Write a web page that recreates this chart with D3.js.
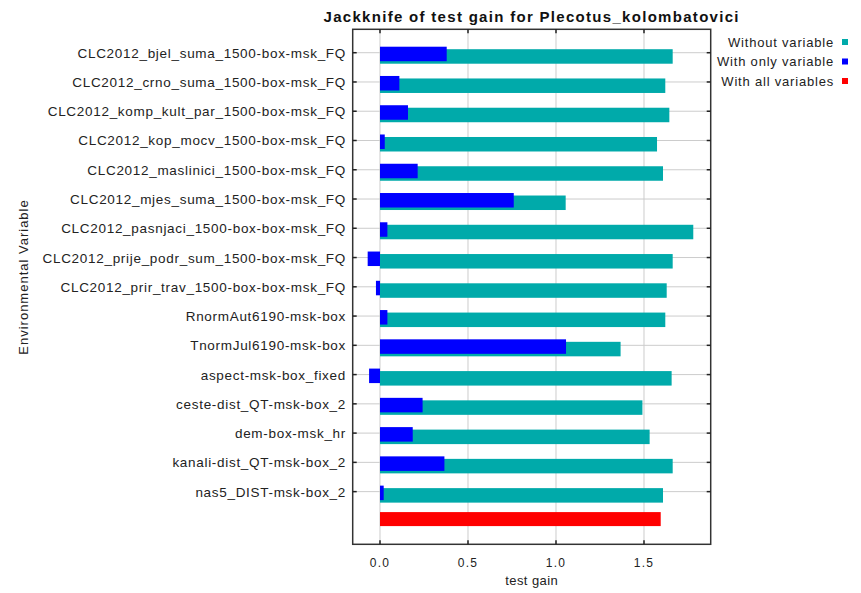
<!DOCTYPE html>
<html><head><meta charset="utf-8">
<script src="https://cdn.jsdelivr.net/npm/d3@7"></script>
<style>body{margin:0;background:#fff;} text{font-family:"Liberation Sans",Arial,sans-serif;}</style>
</head><body>
<svg id="chart" width="861" height="593"></svg>
<script>
const categories = [
  "CLC2012_bjel_suma_1500-box-msk_FQ",
  "CLC2012_crno_suma_1500-box-msk_FQ",
  "CLC2012_komp_kult_par_1500-box-msk_FQ",
  "CLC2012_kop_mocv_1500-box-msk_FQ",
  "CLC2012_maslinici_1500-box-msk_FQ",
  "CLC2012_mjes_suma_1500-box-msk_FQ",
  "CLC2012_pasnjaci_1500-box-box-msk_FQ",
  "CLC2012_prije_podr_sum_1500-box-msk_FQ",
  "CLC2012_prir_trav_1500-box-box-msk_FQ",
  "RnormAut6190-msk-box",
  "TnormJul6190-msk-box",
  "aspect-msk-box_fixed",
  "ceste-dist_QT-msk-box_2",
  "dem-box-msk_hr",
  "kanali-dist_QT-msk-box_2",
  "nas5_DIST-msk-box_2"
];
const withoutVariable = [1.663, 1.621, 1.644, 1.574, 1.608, 1.055, 1.780, 1.663, 1.629, 1.621, 1.367, 1.657, 1.491, 1.532, 1.663, 1.608];
const withOnlyVariable = [0.379, 0.110, 0.159, 0.027, 0.214, 0.760, 0.042, -0.070, -0.023, 0.042, 1.057, -0.062, 0.242, 0.186, 0.366, 0.021];
const withAllVariables = 1.595;
const xTicks = [0, 0.5, 1.0, 1.5];
const legendLabels = ["Without variable", "With only variable", "With all variables"];
const title = "Jackknife of test gain for Plecotus_kolombatovici";
const xTitle = "test gain";
const yTitle = "Environmental Variable";

const colors = {without: "#00aaaa", only: "#0000ff", all: "#ff0000"};
const svg = d3.select("#chart");
const L = 352.7, R = 710.7, T = 29.3, B = 544.3;
const x = d3.scaleLinear().domain([-0.1551, 1.8790]).range([L, R]);
const rows = categories.concat(["__all__"]);
const y = d3.scalePoint().domain(rows).range([T, B]).padding(0.8);

// grid
const g = svg.append("g");
g.selectAll(".vg").data(xTicks).join("line")
  .attr("x1", d => x(d)).attr("x2", d => x(d)).attr("y1", T).attr("y2", B)
  .attr("stroke", "#cccccc").attr("stroke-width", 1);
g.selectAll(".hg").data(categories).join("line")
  .attr("x1", L).attr("x2", R).attr("y1", d => y(d)).attr("y2", d => y(d))
  .attr("stroke", "#cccccc").attr("stroke-width", 1);

// bars
const bh = 14.5;
g.selectAll(".bw").data(categories).join("rect")
  .attr("x", (d, i) => x(Math.min(0, withoutVariable[i])))
  .attr("width", (d, i) => Math.abs(x(withoutVariable[i]) - x(0)))
  .attr("y", d => y(d) - 3.5).attr("height", bh)
  .attr("fill", colors.without);
g.selectAll(".bo").data(categories).join("rect")
  .attr("x", (d, i) => x(Math.min(0, withOnlyVariable[i])))
  .attr("width", (d, i) => Math.abs(x(withOnlyVariable[i]) - x(0)))
  .attr("y", d => y(d) - 6).attr("height", bh)
  .attr("fill", colors.only);
g.append("rect")
  .attr("x", x(0)).attr("width", x(withAllVariables) - x(0))
  .attr("y", y("__all__") - 8.8).attr("height", 14)
  .attr("fill", colors.all);

// frame
svg.append("rect").attr("x", L).attr("y", T).attr("width", R - L).attr("height", B - T)
  .attr("fill", "none").attr("stroke", "#333").attr("stroke-width", 1.5);

// ticks (inward)
const tk = svg.append("g").attr("stroke", "#222").attr("stroke-width", 1.5);
xTicks.forEach(t => {
  tk.append("line").attr("x1", x(t)).attr("x2", x(t)).attr("y1", B).attr("y2", B - 4);
  tk.append("line").attr("x1", x(t)).attr("x2", x(t)).attr("y1", T).attr("y2", T + 4);
});
categories.forEach(c => {
  tk.append("line").attr("x1", L).attr("x2", L + 4).attr("y1", y(c)).attr("y2", y(c));
  tk.append("line").attr("x1", R).attr("x2", R - 4).attr("y1", y(c)).attr("y2", y(c));
});

// labels
svg.append("g").selectAll("text").data(categories).join("text")
  .attr("x", 346).attr("y", d => y(d) + 5)
  .attr("text-anchor", "end").attr("font-size", 13.5).attr("letter-spacing", 0.7).attr("fill", "#222")
  .text(d => d);
svg.append("g").selectAll("text").data(xTicks).join("text")
  .attr("x", d => x(d)).attr("y", 567)
  .attr("text-anchor", "middle").attr("font-size", 12).attr("letter-spacing", 1.2).attr("fill", "#222")
  .text(d => d3.format(".1f")(d));
svg.append("text").attr("x", (L + R) / 2).attr("y", 585)
  .attr("text-anchor", "middle").attr("font-size", 13).attr("letter-spacing", 0.4).attr("fill", "#222").text(xTitle);
svg.append("text").attr("transform", "translate(28,277) rotate(-90)")
  .attr("text-anchor", "middle").attr("font-size", 13).attr("letter-spacing", 1).attr("fill", "#222").text(yTitle);
svg.append("text").attr("x", (L + R) / 2).attr("y", 22)
  .attr("text-anchor", "middle").attr("font-size", 15).attr("font-weight", "bold").attr("letter-spacing", 1.3).attr("fill", "#111").text(title);

// legend
const lc = [colors.without, colors.only, colors.all];
const lg = svg.append("g");
legendLabels.forEach((t, i) => {
  const yy = 42 + i * 19.5;
  lg.append("text").attr("x", 834).attr("y", yy + 4.5).attr("text-anchor", "end")
    .attr("font-size", 13).attr("letter-spacing", 0.8).attr("fill", "#222").text(t);
  lg.append("rect").attr("x", 842).attr("y", yy - 3).attr("width", 6).attr("height", 6).attr("fill", lc[i]);
});
</script>
</body></html>
